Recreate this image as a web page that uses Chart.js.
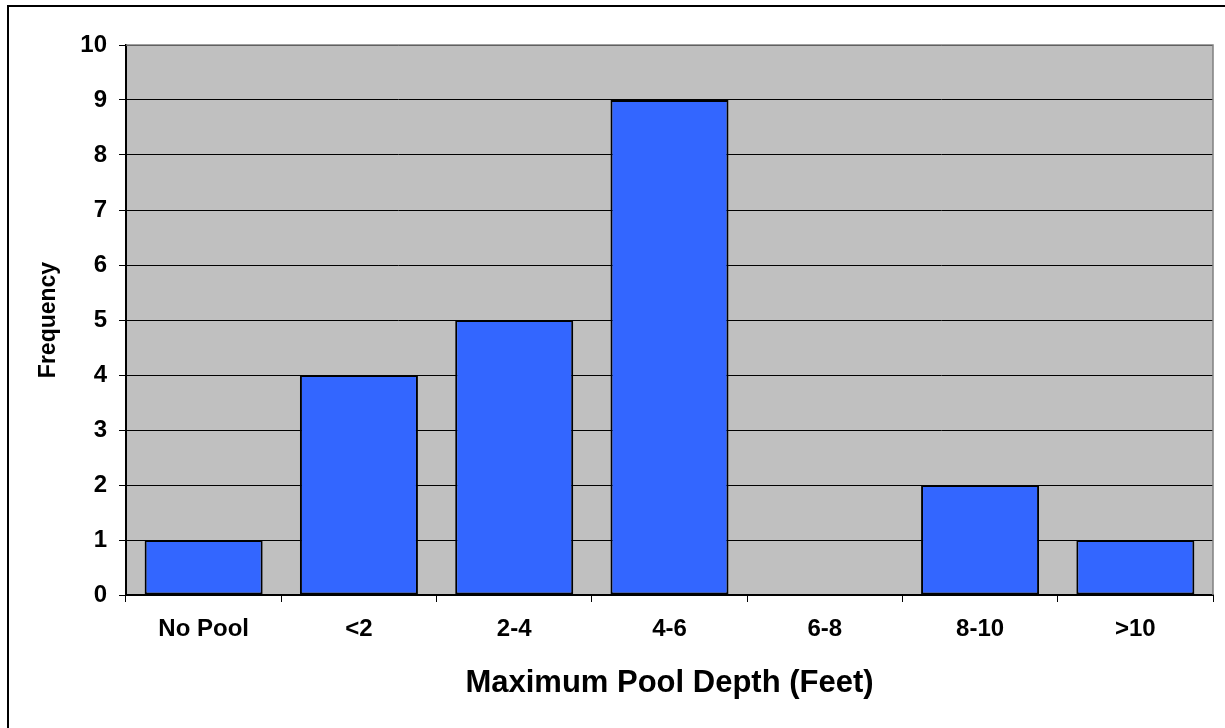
<!DOCTYPE html>
<html>
<head>
<meta charset="utf-8">
<script src="https://cdn.jsdelivr.net/npm/chart.js@4/dist/chart.umd.min.js"></script>
<style>
  html, body { margin: 0; padding: 0; background: #fff; }
  #wrap { position: relative; width: 1225px; height: 728px; overflow: hidden; }
  #frame { position: absolute; left: 7px; top: 5px; width: 1240px; height: 740px; border-left: 2px solid #000; border-top: 2px solid #000; }
  canvas { position: absolute; left: 0; top: 0; }
</style>
</head>
<body>
<div id="wrap">
  <div id="frame"></div>
  <canvas id="c" width="1225" height="728"></canvas>
</div>
<script>
'use strict';
const categories = ['No Pool', '<2', '2-4', '4-6', '6-8', '8-10', '>10'];
const frequency = [1, 4, 5, 9, 0, 2, 1];
const yTicks = [0, 1, 2, 3, 4, 5, 6, 7, 8, 9, 10];

const FONT = "'Liberation Sans', Arial, sans-serif";

// fond gris + cadre de la zone de tracé
const plotBg = {
  id: 'plotBg',
  beforeDraw(chart) {
    const {ctx, chartArea: a} = chart;
    ctx.save();
    ctx.fillStyle = '#c0c0c0';
    ctx.fillRect(a.left, a.top, a.right - a.left, a.bottom - a.top);
    ctx.restore();
  },
  afterDatasetsDraw(chart) {
    const {ctx, chartArea: a} = chart;
    ctx.save();
    ctx.strokeStyle = '#808080'; ctx.lineWidth = 1.5;
    ctx.beginPath();
    ctx.moveTo(a.left, a.top); ctx.lineTo(a.right, a.top); ctx.lineTo(a.right, a.bottom);
    ctx.stroke();
    ctx.restore();
  }
};

new Chart(document.getElementById('c'), {
  type: 'bar',
  data: {
    labels: categories,
    datasets: [{
      data: frequency,
      backgroundColor: '#3366ff',
      borderColor: '#000',
      borderWidth: 2,
      borderSkipped: false,
      categoryPercentage: 0.76,
      barPercentage: 1
    }]
  },
  options: {
    responsive: false,
    animation: false,
    layout: { padding: { left: 0, top: 45, right: 12, bottom: 0 } },
    plugins: { legend: { display: false }, tooltip: { enabled: false } },
    scales: {
      x: {
        afterFit: s => { s.height = 133; },
        grid: { drawOnChartArea: false, tickLength: 7, color: '#000', lineWidth: 1 },
        border: { color: '#000', width: 2 },
        ticks: { color: '#000', padding: 13, font: { family: FONT, size: 24, weight: 'bold' } },
        title: { display: true, text: 'Maximum Pool Depth (Feet)', color: '#000', padding: { top: 0, bottom: 26 }, font: { family: FONT, size: 31, weight: 'bold' } }
      },
      y: {
        min: 0, max: 10,
        afterFit: s => { s.width = 126; },
        afterBuildTicks: s => { s.ticks = yTicks.map(v => ({ value: v })); },
        grid: { color: '#000', lineWidth: 1, tickLength: 7, tickColor: '#000' },
        border: { color: '#000', width: 2 },
        ticks: { color: '#000', padding: 12, font: { family: FONT, size: 24, weight: 'bold' } },
        title: { display: true, text: 'Frequency', color: '#000', padding: { top: 35, bottom: 0 }, font: { family: FONT, size: 23, weight: 'bold' } }
      }
    }
  },
  plugins: [plotBg]
});
</script>
</body>
</html>
